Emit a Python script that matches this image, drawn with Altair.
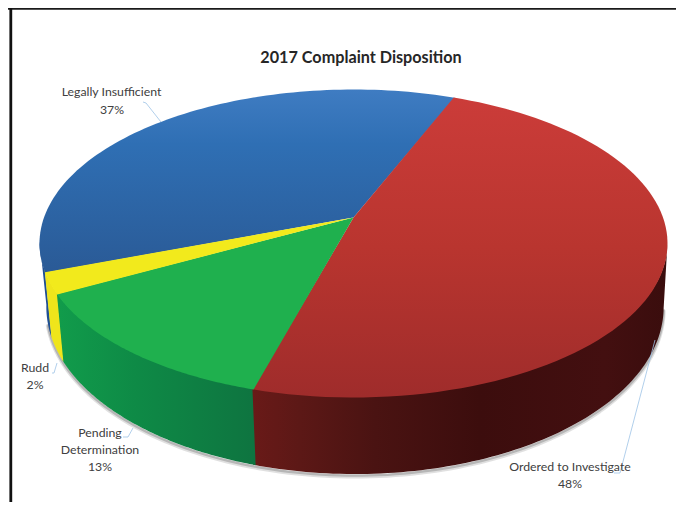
import math
import altair as alt
import pandas as pd

# ---- values ----
names = ["Ordered to Investigate", "Pending Determination", "Rudd", "Legally Insufficient"]
shares = [48.3, 12.8, 2.2, 36.7]
percent_labels = ["48%", "13%", "2%", "37%"]
title_text = "2017 Complaint Disposition"

# ---- 3-D projection of the pie ----
START = 22.0
CX, CY, A, B, K = 353.5, 217.5, 309.5, 149.6, 0.1688
WALL_SCALE_X, WALL_Y0, WALL_SCALE_Y = 0.983, 278.6, 1.086
RIGHT, BOTTOM = 676, 502


def top(deg):
    t = math.radians(deg)
    s = 1 / (1 + K * math.cos(t))
    return CX + A * math.sin(t) * s, CY - B * math.cos(t) * s


def bottom(deg):
    x, y = top(deg)
    return CX + 1.5 + WALL_SCALE_X * (x - CX), WALL_Y0 + WALL_SCALE_Y * (y - CY)


def sweep(a, b, n=90):
    return [a + (b - a) * i / n for i in range(n + 1)]


def wedge(a, b):
    return [(CX, CY)] + [top(d) for d in sweep(a, b)]


def wall(a, b):
    upper = [(x, y - 1.2) for x, y in (top(d) for d in sweep(a, b))]
    return upper + [bottom(d) for d in sweep(b, a)]


def grad(stops, vertical=True):
    return alt.LinearGradient(
        gradient="linear",
        x1=0, y1=0,
        x2=0 if vertical else 1, y2=1 if vertical else 0,
        stops=[alt.GradientStop(offset=o, color=c) for o, c in stops],
    )


X = alt.Scale(domain=[8, RIGHT], range=[0, RIGHT - 8])
Y = alt.Scale(domain=[8, BOTTOM], range=[0, BOTTOM - 8])


def enc(chart):
    return chart.encode(
        x=alt.X("x:Q", scale=X, axis=None),
        y=alt.Y("y:Q", scale=Y, axis=None),
        order="i:Q",
    )


def table(points):
    return pd.DataFrame([{"x": x, "y": y, "i": i} for i, (x, y) in enumerate(points)])


def poly(points, fill):
    return enc(alt.Chart(table(points)).mark_line(fill=fill, strokeWidth=0, strokeJoin="round"))


def path(points, color, width, opacity=1.0):
    return enc(alt.Chart(table(points)).mark_line(color=color, strokeWidth=width, opacity=opacity, strokeJoin="round"))


# slice angles from the shares
angles = [START]
for v in shares:
    angles.append(angles[-1] + v * 3.6)
red, green, yellow, blue = [(angles[i], angles[i + 1]) for i in range(4)]

face_fills = [
    grad([(0, "#cb3c39"), (0.5, "#b9352f"), (1, "#9f2c2b")]),
    "#1fb04e",
    "#f2ea1c",
    grad([(0, "#3f7cc2"), (0.3, "#2f6fb4"), (1, "#2a5a96")]),
]
wall_fills = [
    grad([(0, "#6a1a18"), (0.12, "#5c1816"), (0.3, "#4a1312"), (0.55, "#3c0d0d"), (0.85, "#430f10"), (1, "#3a0d0d")], False),
    grad([(0, "#119c4b"), (0.4, "#0e8a46"), (1, "#0e7440")], False),
    "#efe51b",
    "#1f4f92",
]

layers = []

# soft shadow under the wall
for off, w, op in [(2.5, 4, 0.18), (1.5, 2.5, 0.3)]:
    layers.append(path([(x, y + off) for x, y in (bottom(d) for d in sweep(100, 255, 120))], "#555555", w, op))

# walls then faces (each painted slightly under its neighbour to avoid seams)
wall_spans = [
    (100, red[1] + 0.4),
    (green[0], green[1] + 0.4),
    (yellow[0], yellow[1] + 0.4),
    (blue[0], 261),
]
draw_order = [3, 0, 1, 2]
for i in draw_order:
    layers.append(poly(wall(*wall_spans[i]), wall_fills[i]))
face_spans = [red, (green[0] - 0.2, green[1]), (yellow[0] - 0.2, yellow[1]), (blue[0] - 0.2, blue[1] + 0.2)]
for i in [3, 0, 1, 2]:
    layers.append(poly(wedge(*face_spans[i]), face_fills[i]))

# leader lines
for pts in [
    [(143, 102), (146, 103), (161, 122)],
    [(52, 373), (54, 373), (57, 363)],
    [(123, 437), (128, 437), (133, 428)],
    [(614, 473), (620, 473), (655, 340)],
]:
    layers.append(path(pts, "#9dc3e6", 0.8))

# frame
layers.append(path([(8, 8.5), (RIGHT, 8.5)], "#1a1a1a", 2.5))
layers.append(path([(10.8, 8), (10.8, BOTTOM)], "#111111", 2.8))

# text
pct = dict(zip(names, percent_labels))
label_rows = [
    ("Legally Insufficient", 111.5, 92),
    (pct["Legally Insufficient"], 112, 110),
    (names[2], 35, 368),
    (pct[names[2]], 35, 385),
    ("Pending", 100, 433),
    ("Determination", 100, 450),
    (pct[names[1]], 100, 467),
    (names[0], 570, 467),
    (pct[names[0]], 570, 484),
]
labels = pd.DataFrame(label_rows, columns=["t", "x", "y"])
layers.append(
    alt.Chart(labels)
    .mark_text(font="Lato", fontSize=12.3, color="#404040", align="center", baseline="middle")
    .encode(x=alt.X("x:Q", scale=X, axis=None), y=alt.Y("y:Q", scale=Y, axis=None), text="t:N")
)
layers.append(
    alt.Chart(pd.DataFrame({"t": [title_text], "x": [361], "y": [58]}))
    .mark_text(font="Lato", fontSize=16.2, fontWeight="bold", color="#262626", align="center", baseline="middle")
    .encode(x=alt.X("x:Q", scale=X, axis=None), y=alt.Y("y:Q", scale=Y, axis=None), text="t:N")
)

chart = (
    alt.layer(*layers)
    .properties(
        width=RIGHT - 8, height=BOTTOM - 8, padding=0, background="white",
        autosize=alt.AutoSizeParams(type="none", contains="padding"),
    )
    .configure_view(stroke=None)
)
chart.save("out.html", embed_options={"renderer": "svg", "actions": False})
